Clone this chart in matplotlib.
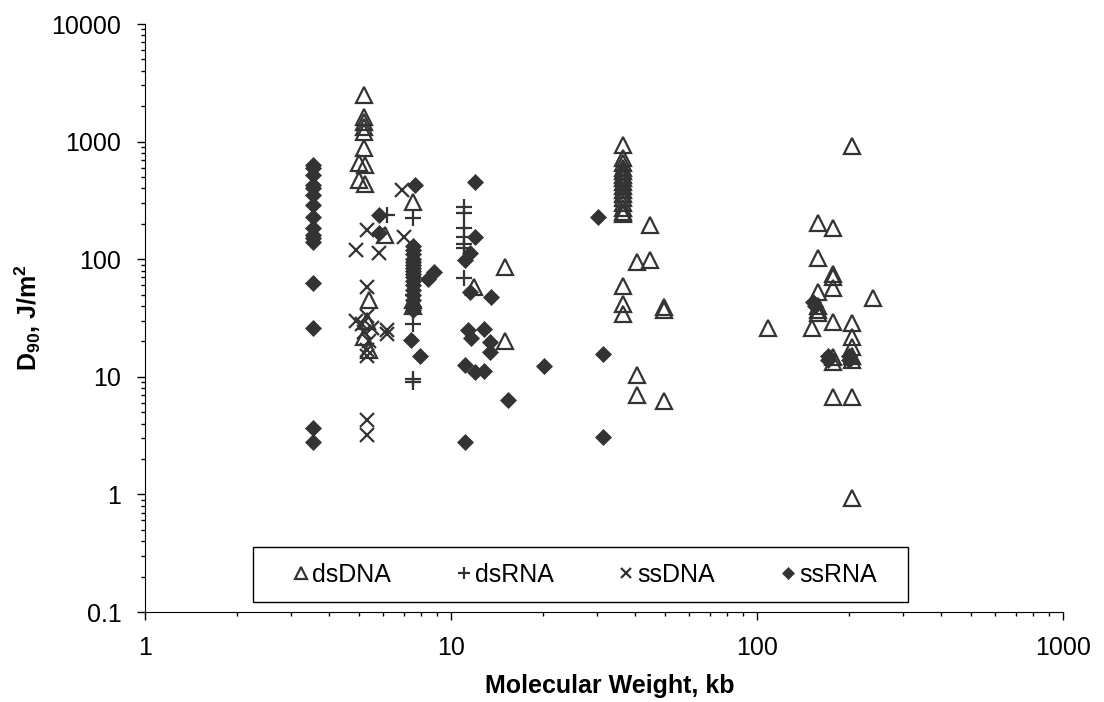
#D90 vs molecular weight scatter
import numpy as np
import matplotlib
matplotlib.use("Agg")
import matplotlib.pyplot as plt
from matplotlib.patches import Rectangle
from matplotlib.ticker import LogLocator, NullFormatter, FixedLocator, FixedFormatter

plt.rcParams['font.family'] = ['Liberation Sans', 'DejaVu Sans']
plt.rcParams['mathtext.fontset'] = 'custom'
plt.rcParams['mathtext.rm'] = 'Liberation Sans:bold'
plt.rcParams['mathtext.bf'] = 'Liberation Sans:bold'

# dsDNA (x = kb, y = J/m2)
dsdna_x = [5.0, 5.0, 5.25, 5.25, 5.2, 5.2, 5.2, 5.2, 5.2, 5.2,
           5.4, 5.3, 5.2, 5.4, 6.1, 7.5, 7.5, 7.5,
           11.9, 15.0, 15.0,
           36.6, 36.6, 36.6, 36.6, 36.6, 36.6, 36.6, 36.6, 36.6, 36.6,
           36.6, 36.6, 36.6, 36.6, 36.6, 36.6, 36.6, 36.6, 36.6,
           44.8, 40.6, 44.8, 49.8, 49.8, 40.6, 40.6, 49.8,
           109, 151, 158, 177, 158, 177, 177, 177, 158, 158, 158, 158,
           240, 177, 204, 204, 204, 204, 204, 177, 177, 177, 204, 204, 204]
dsdna_y = [660, 470, 630, 440, 2500, 1620, 1470, 1330, 1210, 880,
           45, 30, 22, 17, 161, 306, 45, 40,
           58, 86, 20,
           935, 730, 660, 600, 560, 520, 490, 450, 420, 390,
           360, 330, 300, 270, 250, 240, 59, 42, 34,
           195, 95, 98, 39, 37, 10.4, 7.0, 6.2,
           26, 26, 203, 184, 102, 75, 70, 57, 53, 40, 37, 35,
           47, 29, 28.7, 21.8, 17.9, 15, 14, 14.7, 13.3, 6.7, 6.7, 0.93, 918]

# dsRNA
dsrna_x = [6.2, 7.5, 7.5, 7.5, 7.5, 7.5, 11.0, 11.0, 11.0, 11.0, 11.0, 11.0, 11.0]
dsrna_y = [238, 224, 50, 28, 9.0, 9.6, 278, 247, 184, 155, 135, 124, 69]

# ssDNA
ssdna_x = [4.9, 5.3, 5.8, 6.9, 7.0, 5.3, 4.9, 5.1, 5.3, 5.5, 5.2, 5.4,
           5.3, 5.3, 6.2, 6.2, 5.3, 5.3]
ssdna_y = [120, 177, 113, 387, 155, 58, 30, 28, 33, 26, 24, 20,
           17, 15, 25, 23, 4.3, 3.2]

# ssRNA
ssrna_x = [3.55] * 16 + [5.8, 5.8, 7.6] + [7.5] * 17 + \
          [8.8, 8.4, 7.4, 7.9,
           12.0, 12.0, 11.5, 11.1, 11.5, 13.5, 11.4, 12.8, 11.6, 13.4, 13.4,
           11.1, 12.0, 12.8, 11.1, 20.2, 15.3, 30.3, 31.3, 31.3,
           155, 152, 170, 170, 200, 200]
ssrna_y = [630, 600, 520, 430, 400, 350, 290, 228, 184, 161, 150, 140, 63, 26, 3.7, 2.8] + \
          [238, 167, 430] + \
          [130, 120, 110, 100, 95, 90, 85, 80, 75, 70, 65, 60, 55, 50, 45, 40, 37] + \
          [78, 68, 20.6, 15,
           453, 155, 113, 98, 53, 48, 25, 25.5, 21.5, 19.6, 16.3,
           12.7, 10.9, 11.1, 2.8, 12.4, 6.4, 229, 15.6, 3.1,
           40, 43, 15, 14, 15, 14]

col = '#333333'
fs = 18
fig = plt.figure(figsize=(11.04, 7.02), dpi=100)
ax = fig.add_axes([145/1104, 90/702, (1063-145)/1104, (612-24)/702])

ax.plot(dsdna_x, dsdna_y, ls='none', marker='^', ms=11, mfc='none', mec=col, mew=1.6, label='dsDNA')
ax.plot(dsrna_x, dsrna_y, ls='none', marker='+', ms=12, mec=col, mew=1.6, label='dsRNA')
ax.plot(ssdna_x, ssdna_y, ls='none', marker='x', ms=10, mec=col, mew=1.6, label='ssDNA')
ax.plot(ssrna_x, ssrna_y, ls='none', marker='D', ms=8, mfc=col, mec=col, mew=0.5, label='ssRNA')

ax.set_xscale('log')
ax.set_yscale('log')
ax.set_xlim(1, 1000)
ax.set_ylim(0.1, 10000)

ax.xaxis.set_major_locator(FixedLocator([1, 10, 100, 1000]))
ax.xaxis.set_major_formatter(FixedFormatter(['1', '10', '100', '1000']))
ax.yaxis.set_major_locator(FixedLocator([0.1, 1, 10, 100, 1000, 10000]))
ax.yaxis.set_major_formatter(FixedFormatter(['0.1', '1', '10', '100', '1000', '10000']))
ax.xaxis.set_minor_locator(LogLocator(base=10, subs=np.arange(2, 10)))
ax.yaxis.set_minor_locator(LogLocator(base=10, subs=np.arange(2, 10)))
ax.xaxis.set_minor_formatter(NullFormatter())
ax.yaxis.set_minor_formatter(NullFormatter())

ax.spines['top'].set_visible(False)
ax.spines['right'].set_visible(False)
ax.tick_params(which='major', length=6, width=1, labelsize=fs, pad=11, color='black')
ax.tick_params(which='minor', length=3, width=1, color='black')

ax.set_xlabel('Molecular Weight, kb', fontsize=fs, fontweight='bold', labelpad=12)
ax.xaxis.set_label_coords((610-145)/918, -0.105)
ax.set_ylabel(r'D$_{90}$, J/m$^{2}$', fontsize=fs, fontweight='bold', labelpad=6)

# legend box
ax.add_patch(Rectangle(((253-145)/918, 10/588), 655/918, 55/588, transform=ax.transAxes,
                       fill=False, ec='black', lw=1, zorder=5))
leg = ax.legend(loc='center', bbox_to_anchor=(0.480, 37.5/588), ncol=4, fontsize=fs,
                frameon=False, handlelength=0.5, handletextpad=0.2, columnspacing=2.65,
                borderaxespad=0, markerscale=0.75)

plt.savefig('out.png', dpi=100)
